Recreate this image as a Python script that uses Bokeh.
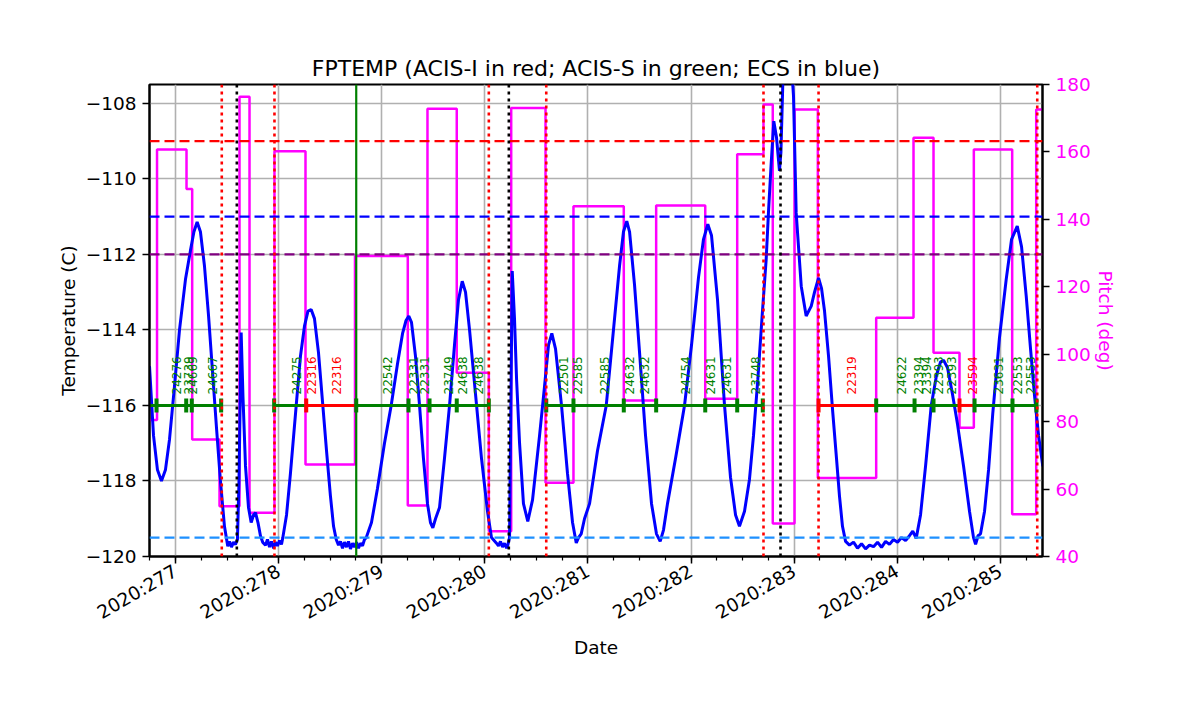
import numpy as np
from bokeh.plotting import figure
from bokeh.models import (Range1d, LinearAxis, FixedTicker, Span,
                          CustomJSTickFormatter)
from bokeh.core.properties import value
from bokeh.embed import file_html
from bokeh.resources import INLINE

FONT = "DejaVu Sans"

# ---------------- data ----------------
# FPTEMP model (deg C) vs day of year 2020
temp_day = [276.748, 276.787, 276.825, 276.864, 276.903, 276.942, 276.990, 277.039, 277.097,
            277.145, 277.179, 277.210, 277.242, 277.281, 277.320, 277.359, 277.398, 277.436,
            277.475, 277.507, 277.524, 277.543, 277.563, 277.582, 277.601, 277.616, 277.637,
            277.655, 277.679, 277.708, 277.734, 277.757, 277.776, 277.800, 277.824, 277.847,
            277.873, 277.892, 277.912, 277.931, 277.951, 277.970, 277.989, 278.009, 278.028,
            278.041, 278.077, 278.115, 278.171, 278.212, 278.251, 278.285, 278.316, 278.348,
            278.387, 278.426, 278.465, 278.503, 278.533, 278.559, 278.581, 278.600, 278.620,
            278.639, 278.659, 278.678, 278.697, 278.717, 278.736, 278.756, 278.775, 278.794,
            278.814, 278.833, 278.850, 278.901, 278.959, 279.027, 279.092, 279.153, 279.202,
            279.236, 279.263, 279.289, 279.328, 279.367, 279.405, 279.444, 279.473, 279.496,
            279.522, 279.561, 279.609, 279.658, 279.706, 279.745, 279.781, 279.813, 279.852,
            279.910, 279.968, 280.026, 280.065, 280.111, 280.133, 280.152, 280.172, 280.191,
            280.211, 280.223, 280.240, 280.266, 280.288, 280.308, 280.337, 280.375, 280.417,
            280.463, 280.531, 280.579, 280.618, 280.650, 280.686, 280.744, 280.802, 280.851,
            280.887, 280.909, 280.935, 280.967, 281.016, 281.093, 281.178, 281.248, 281.307,
            281.345, 281.377, 281.404, 281.452, 281.501, 281.559, 281.617, 281.665, 281.701,
            281.733, 281.772, 281.850, 281.937, 282.005, 282.073, 282.121, 282.163, 282.199,
            282.257, 282.325, 282.383, 282.432, 282.470, 282.519, 282.567, 282.606, 282.648,
            282.688, 282.729, 282.751, 282.778, 282.803, 282.829, 282.858, 282.872, 282.892,
            282.917, 282.946, 282.975, 282.994, 283.020, 283.069, 283.117, 283.166, 283.198,
            283.237, 283.266, 283.295, 283.334, 283.375, 283.411, 283.440, 283.469, 283.499,
            283.537, 283.576, 283.615, 283.654, 283.693, 283.731, 283.770, 283.809, 283.848,
            283.887, 283.925, 283.964, 284.003, 284.042, 284.081, 284.119, 284.151, 284.184,
            284.226, 284.275, 284.330, 284.381, 284.420, 284.449, 284.488, 284.536, 284.585,
            284.643, 284.701, 284.740, 284.760, 284.784, 284.808, 284.847, 284.886, 284.927,
            284.992, 285.057, 285.109, 285.164, 285.206, 285.251, 285.293, 285.332, 285.371,
            285.412]
temp_val = [-114.96, -116.8, -117.7, -118.0, -117.7, -116.9, -115.5, -114.0, -112.66,
            -111.9, -111.4, -111.14, -111.4, -112.3, -113.6, -115.1, -116.6, -118.0,
            -119.2, -119.73, -119.6, -119.75, -119.62, -119.68, -119.55, -118.0, -114.07,
            -115.8, -117.6, -118.7, -119.1, -118.9, -118.84, -119.1, -119.45, -119.63,
            -119.7, -119.55, -119.75, -119.6, -119.78, -119.62, -119.72, -119.58, -119.68,
            -119.5, -118.9, -117.8, -116.0, -114.7, -113.9, -113.5, -113.46, -113.7,
            -114.6, -115.9, -117.2, -118.4, -119.2, -119.55, -119.7, -119.6, -119.78,
            -119.62, -119.75, -119.6, -119.8, -119.65, -119.75, -119.62, -119.78, -119.65,
            -119.72, -119.55, -119.5, -119.1, -118.2, -117.0, -116.0, -114.9, -114.1,
            -113.75, -113.63, -113.8, -114.7, -116.0, -117.4, -118.6, -119.1, -119.24,
            -119.0, -118.7, -117.4, -116.0, -114.4, -113.2, -112.71, -113.0, -114.0,
            -115.7, -117.4, -118.8, -119.5, -119.64, -119.72, -119.6, -119.75, -119.65,
            -119.78, -119.7, -119.5, -112.44, -113.7, -115.3, -117.0, -118.6, -119.07,
            -118.5, -116.8, -115.5, -114.4, -114.09, -114.5, -116.0, -117.8, -119.1,
            -119.64, -119.5, -119.4, -119.0, -118.6, -117.2, -116.0, -114.0, -112.3,
            -111.4, -111.12, -111.4, -112.8, -114.6, -116.8, -118.6, -119.4, -119.6,
            -119.3, -118.6, -117.4, -116.0, -114.4, -112.6, -111.6, -111.2, -111.5,
            -113.2, -116.0, -117.9, -118.9, -119.2, -118.8, -117.96, -116.8, -115.31,
            -113.7, -112.13, -110.9, -109.57, -108.47, -108.9, -109.79, -109.3, -107.3,
            -106.7, -106.6, -107.0, -107.8, -110.9, -112.84, -113.63, -113.37, -113.0,
            -112.62, -112.9, -113.5, -114.7, -116.19, -117.4, -118.4, -119.2, -119.6,
            -119.7, -119.62, -119.78, -119.66, -119.8, -119.7, -119.74, -119.62, -119.76,
            -119.6, -119.68, -119.55, -119.62, -119.5, -119.58, -119.45, -119.33, -119.52,
            -118.9, -117.6, -116.0, -115.2, -114.85, -114.8, -115.0, -115.7, -116.5,
            -117.6, -118.8, -119.5, -119.68, -119.45, -119.4, -118.8, -117.7, -116.2,
            -114.2, -112.66, -111.6, -111.25, -111.8, -113.1, -114.5, -115.75, -116.8,
            -117.61]

# Pitch (deg), piecewise constant: value holds from each time until the next
pitch_day = [276.748, 276.821, 277.107, 277.162, 277.427, 277.621, 277.718, 277.960,
             278.261, 278.741, 279.253, 279.444, 279.728, 280.039, 280.256, 280.589,
             280.860, 281.348, 281.662, 282.138, 282.448, 282.703, 282.793, 283.004,
             283.230, 283.796, 284.158, 284.352, 284.604, 284.743, 285.115, 285.348,
             285.409]
pitch_val = [80.5, 160.7, 149.0, 74.7, 54.9, 176.4, 53.0, 160.2,
             67.3, 129.1, 55.1, 172.8, 94.5, 47.5, 173.0, 61.9,
             143.9, 86.3, 144.1, 86.8, 159.3, 174.1, 49.8, 172.6,
             63.3, 110.8, 164.2, 100.4, 78.2, 160.7, 52.5, 172.6,
             172.6]

# Limits (deg C)
limit_vals = [-109.0, -111.0, -112.0, -119.5]
limit_colors = ["red", "blue", "purple", "dodgerblue"]

# Vertical event markers
red_dotted_days = [277.449, 277.960, 280.039, 280.596, 282.703, 283.237, 285.358]
black_dotted_days = [277.595, 280.233, 282.868]
now_day = 278.753

# Obsid intervals
seg_start = [276.70, 277.957, 278.268, 278.753, 280.596, 283.237, 283.796, 284.604, 284.750]
seg_end = [277.443, 278.268, 278.753, 280.039, 282.696, 283.796, 284.604, 284.750, 285.351]
seg_inst = ["S", "S", "I", "S", "S", "I", "S", "I", "S"]

tick_day = [276.816, 277.104, 277.158, 277.443, 277.957, 278.268, 278.753, 279.260,
            279.464, 279.728, 280.039, 280.596, 280.860, 281.348, 281.662, 282.138,
            282.448, 282.696, 283.237, 283.796, 284.168, 284.352, 284.604, 284.750,
            285.118, 285.351]
tick_inst = ["S", "S", "S", "S", "S", "I", "S", "S",
             "S", "S", "S", "S", "S", "S", "S", "S",
             "S", "S", "I", "S", "S", "S", "I", "S",
             "S", "S"]

obsid_day = [277.007, 277.126, 277.165, 277.362, 278.171, 278.316, 278.559, 279.053,
             279.311, 279.415, 279.645, 279.781, 279.939, 280.766, 280.902, 281.161,
             281.404, 281.552, 281.944, 282.186, 282.341, 282.623, 283.560, 284.039,
             284.210, 284.287, 284.404, 284.530, 284.727, 284.980, 285.164, 285.293]
obsid_txt = ["24276", "23739", "24669", "24667", "24275", "22316", "22316", "22542",
             "22331", "22331", "23749", "24638", "24638", "22501", "22585", "22585",
             "24632", "24632", "24754", "24631", "24631", "23748", "22319", "24622",
             "23394", "23394", "22393", "22393", "23594", "23631", "22553", "22553"]
obsid_inst = ["S", "S", "S", "S", "S", "I", "I", "S",
              "S", "S", "S", "S", "S", "S", "S", "S",
              "S", "S", "S", "S", "S", "S", "I", "S",
              "S", "S", "S", "S", "I", "S", "S", "S"]

x_ticks = [277, 278, 279, 280, 281, 282, 283, 284, 285]
x_minor = [276.75 + 0.25 * i for i in range(36)]
y_ticks = [-120, -118, -116, -114, -112, -110, -108]
pitch_ticks = [40, 60, 80, 100, 120, 140, 160, 180]

inst_color = {"S": "green", "I": "red"}
OBS_Y = -116.0

# ---------------- figure ----------------
p = figure(width=1184, height=698,
           x_range=Range1d(276.748, 285.409), y_range=Range1d(-120, -107.5),
           output_backend="svg", toolbar_location=None,
           min_border_left=149, min_border_right=142,
           min_border_top=84, min_border_bottom=142)
p.extra_y_ranges = {"pitch": Range1d(40, 180)}

p.title.text = "FPTEMP (ACIS-I in red; ACIS-S in green; ECS in blue)"
p.title.align = "center"
p.title.text_font = FONT
p.title.text_font_size = "22px"
p.title.text_font_style = "normal"
p.title.text_color = "black"
p.title.standoff = 8

p.outline_line_color = "black"
p.outline_line_width = 2
p.background_fill_color = "white"
p.border_fill_color = "white"

# x axis
xax = p.xaxis[0]
xax.ticker = FixedTicker(ticks=x_ticks, minor_ticks=x_minor)
xax.formatter = CustomJSTickFormatter(code="return '2020:' + tick.toFixed(0);")
xax.major_label_orientation = np.pi / 6
xax.axis_label = "Date"

# left y axis
yax = p.yaxis[0]
yax.ticker = FixedTicker(ticks=y_ticks, minor_ticks=[])
yax.formatter = CustomJSTickFormatter(
    code="return (tick < 0 ? '\\u2212' : '') + Math.abs(tick).toFixed(0);")
yax.axis_label = "Temperature (C)"

# right pitch axis
rax = LinearAxis(y_range_name="pitch", axis_label="Pitch (deg)",
                 ticker=FixedTicker(ticks=pitch_ticks, minor_ticks=[]))
p.add_layout(rax, "right")

for ax in (xax, yax, rax):
    ax.major_label_text_font = FONT
    ax.major_label_text_font_size = "18.5px"
    ax.major_label_text_color = "black"
    ax.axis_label_text_font = FONT
    ax.axis_label_text_font_size = "18.5px"
    ax.axis_label_text_font_style = "normal"
    ax.axis_label_text_color = "black"
    ax.axis_line_color = "black"
    ax.axis_line_width = 2
    ax.major_tick_line_color = "black"
    ax.major_tick_line_width = 1.5
    ax.major_tick_out = 7
    ax.major_tick_in = 0
    ax.minor_tick_out = 4
    ax.minor_tick_in = 0
    ax.minor_tick_line_color = "black"
    ax.minor_tick_line_width = 1.2
    ax.major_label_standoff = 6
xax.axis_label_standoff = 2
yax.axis_label_standoff = 4
rax.axis_label_standoff = 1
rax.major_label_text_color = "magenta"
rax.axis_label_text_color = "magenta"

p.xgrid.ticker = FixedTicker(ticks=x_ticks)
p.ygrid.ticker = FixedTicker(ticks=y_ticks)
for g in (p.xgrid[0], p.ygrid[0]):
    g.grid_line_color = "#b0b0b0"
    g.grid_line_width = 1.6

# pitch (magenta step line)
p.step(pitch_day, pitch_val, mode="after", line_color="magenta", line_width=2.5,
       y_range_name="pitch")

# temperature
p.line(temp_day, temp_val, line_color="blue", line_width=3)

# limit lines
for v, c in zip(limit_vals, limit_colors):
    p.add_layout(Span(location=v, dimension="width", line_color=c,
                      line_width=2.2, line_dash="10 5"))

for d in red_dotted_days:
    p.add_layout(Span(location=d, dimension="height", line_color="red",
                      line_width=2.6, line_dash="3 4"))
for d in black_dotted_days:
    p.add_layout(Span(location=d, dimension="height", line_color="black",
                      line_width=2.6, line_dash="3 4"))
p.add_layout(Span(location=now_day, dimension="height", line_color="green",
                  line_width=2.2))

# obsid bars
p.segment(x0=seg_start, y0=[OBS_Y] * len(seg_start), x1=seg_end, y1=[OBS_Y] * len(seg_end),
          line_color=[inst_color[i] for i in seg_inst], line_width=3)
p.scatter(x=tick_day, y=[OBS_Y] * len(tick_day), marker="dash", angle=np.pi / 2,
          size=14, line_width=4, line_color=[inst_color[i] for i in tick_inst])
p.text(x=obsid_day, y=[OBS_Y + 0.29] * len(obsid_day), text=obsid_txt,
       angle=np.pi / 2, text_align="left", text_baseline="middle",
       text_font=value(FONT), text_font_size="12px",
       text_color=[inst_color[i] for i in obsid_inst])

open("out.html", "w").write(file_html(p, INLINE))
